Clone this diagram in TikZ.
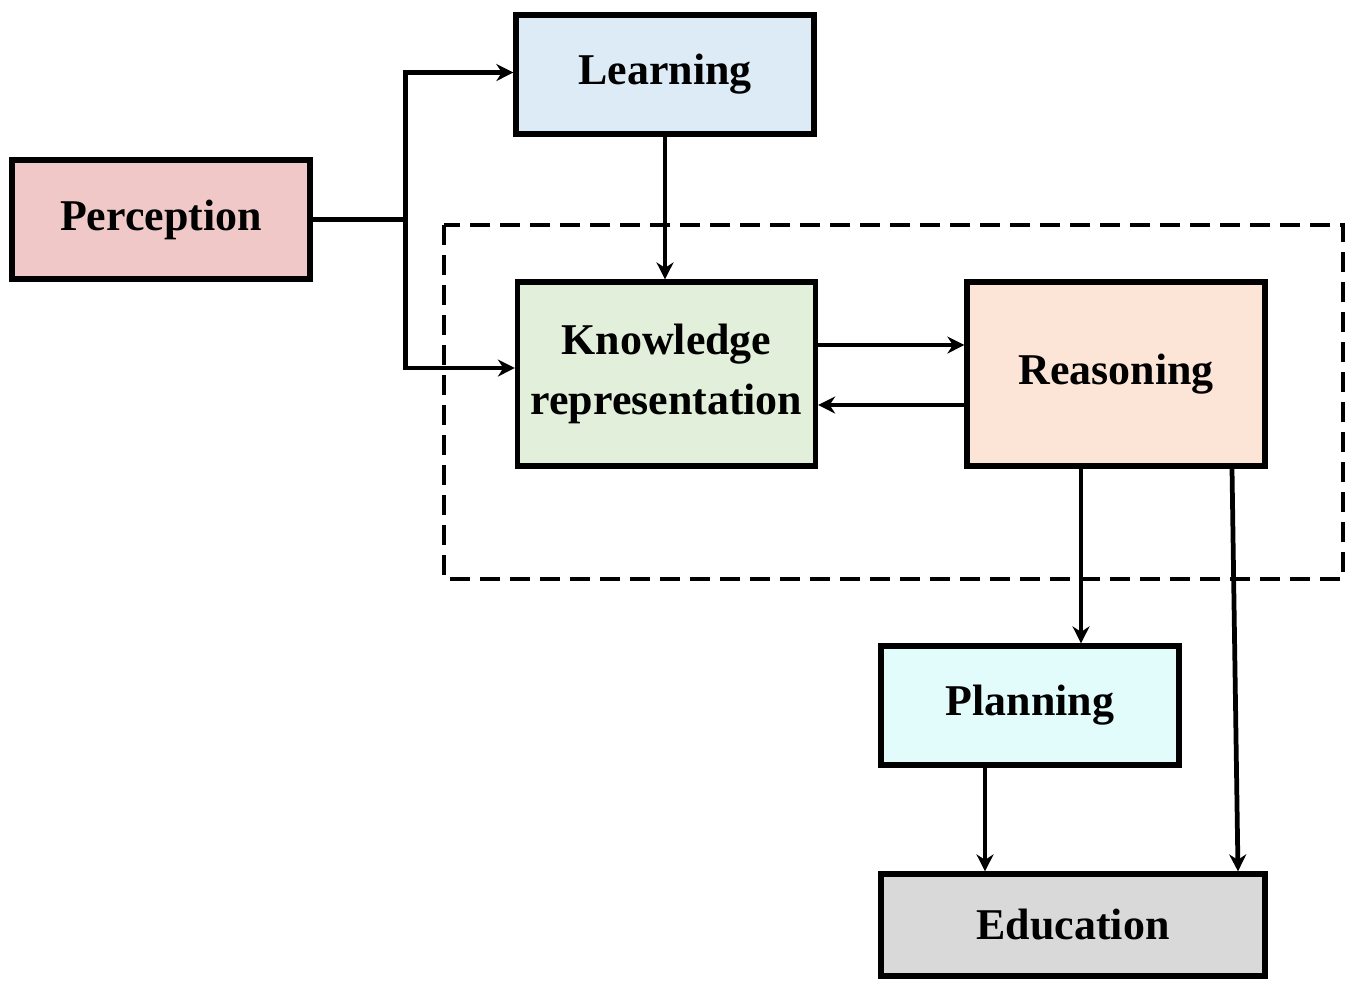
\documentclass[tikz,border=0pt]{standalone}
\usepackage{fontspec}
\setmainfont{Liberation Serif}
\usetikzlibrary{arrows.meta}
\definecolor{percfill}{HTML}{F0C8C8}
\definecolor{learnfill}{HTML}{DDEBF7}
\definecolor{krfill}{HTML}{E2EFDA}
\definecolor{reasonfill}{HTML}{FCE4D6}
\definecolor{planfill}{HTML}{E2FCFC}
\definecolor{edufill}{HTML}{D9D9D9}
\begin{document}
\begin{tikzpicture}[
			block/.style={draw, line width=1.5pt, minimum width=2.98cm, minimum height=1.19cm, inner sep=2pt, align=center, font=\fontsize{12.5}{17}\selectfont\bfseries},
			link/.style={line width=1.35pt},
			arr/.style={link, -{Stealth[length=1.7mm, width=1.7mm]}}
		]
		\useasboundingbox (0,0) rectangle (13.45,-9.83);

		% Region
		\draw[line width=1pt, dash pattern=on 2mm off 1mm] (4.44,-2.25) rectangle (13.43,-5.79);

		% Nodes
		\node[block, fill=percfill] (perc) at (1.61,-2.195) {Perception};
		\node[block, fill=learnfill] (learn) at (6.65,-0.745) {Learning};
		\node[block, fill=krfill, minimum height=1.84cm] (kr) at (6.665,-3.74) {Knowledge\\representation};
		\node[block, fill=reasonfill, minimum height=1.84cm] (rea) at (11.16,-3.74) {Reasoning};
		\node[block, fill=planfill] (plan) at (10.30,-7.055) {Planning};
		\node[block, fill=edufill, minimum width=3.84cm, minimum height=1.02cm] (edu) at (10.73,-9.25) {Education};

		% Connections
		\draw[link] (perc.east) -- ++(0.93,0) coordinate (split);
		\draw[arr] (split) |- ([yshift=0.02cm]learn.west);
		\draw[arr] (split) |- ([yshift=0.06cm]kr.west);
		\draw[arr] (learn.south) -- (learn.south |- kr.north);
		\draw[arr] ([yshift=0.29cm]kr.east) -- ([yshift=0.29cm]rea.west);
		\draw[arr] ([yshift=-0.31cm]rea.west) -- ([yshift=-0.31cm]kr.east);
		\draw[arr] ([xshift=-0.35cm]rea.south) -- ([xshift=-0.35cm]rea.south |- plan.north);
		\draw[arr] ([xshift=1.16cm]rea.south) -- ([xshift=1.65cm]edu.north);
		\draw[arr] ([xshift=-0.45cm]plan.south) -- ([xshift=-0.45cm]plan.south |- edu.north);
	\end{tikzpicture}
\end{document}
